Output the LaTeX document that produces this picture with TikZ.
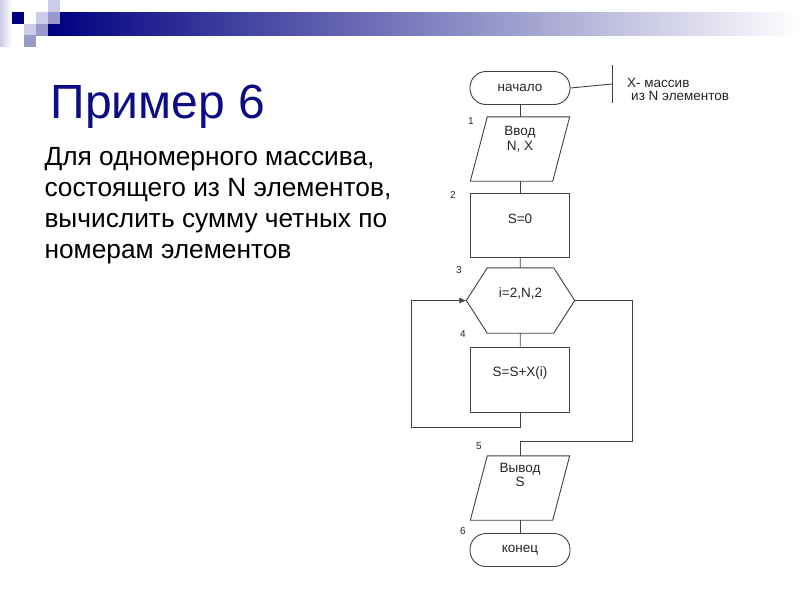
\documentclass[tikz,border=0pt]{standalone}
\usepackage{fontspec}
\setmainfont{Liberation Sans}
\usetikzlibrary{arrows.meta}

\definecolor{deckblue}{HTML}{000080}
\definecolor{deckmid}{HTML}{9999CC}
\definecolor{decklight}{HTML}{CCCCE8}
\definecolor{titleblue}{HTML}{0C0C84}

\begin{document}
\begin{tikzpicture}[x=1pt, y=-1pt,
    flow/.style={draw=black!75, line width=0.9pt},
    block/.style={flow, minimum width=99pt, minimum height=64pt, inner sep=0pt},
    ghost/.style={minimum width=99pt, minimum height=64pt, inner sep=0pt},
    term/.style={flow, rounded corners=16pt, minimum width=100pt, minimum height=33pt, inner sep=0pt},
    txt/.style={font=\fontsize{13.5}{14.5}\selectfont, text=black!85, align=center, inner sep=0pt},
    num/.style={font=\fontsize{10}{12}\selectfont, text=black!85, inner sep=0pt}]
    \useasboundingbox (0,0) rectangle (800,600);
    \fill[white] (0,0) rectangle (800,600);

    % Polosa i kvadratiki v levom uglu
    \shade[left color=decklight, right color=white] (0,0) rectangle (12,46);
    \shade[left color=deckblue, middle color=deckblue!40, right color=white] (48,12) rectangle (800,35);
    \foreach \x/\y/\c in {48/0/decklight, 12/12/deckblue, 36/12/decklight, 48/12/deckmid,
                          24/24/decklight, 36/24/deckmid, 24/35/deckmid}
        \fill[\c] (\x,\y) rectangle ++(12,12);

    % Zagolovok i uslovie
    \node (title) [anchor=base west, text=titleblue, font=\fontsize{48}{52}\selectfont] at (47,118) {Пример 6};
    \node (task) [anchor=base west, align=left, font=\fontsize{26.3}{31}\selectfont] at (41,258)
        {Для одномерного массива,\\состоящего из N элементов,\\вычислить сумму четных по\\номерам элементов};

    % Blok-skhema
    \node (start) [term, txt] at (520,88) {начало};

    \node (inp) [ghost] at (520,149) {};
    \draw[flow] ([xshift=17pt]inp.north west) -- (inp.north east) -- ([xshift=-17pt]inp.south east) -- (inp.south west) -- cycle;
    \node (inptext) [txt] at ([yshift=10pt]inp.center) {Ввод\\N, X};

    \node (init) [block] at (520,225) {};
    \node (inittext) [txt] at ([yshift=6pt]init.center) {S=0};

    \node (cyc) [ghost, minimum width=108pt, minimum height=65pt] at (520.5,300.5) {};
    \draw[flow] (cyc.west) -- ([xshift=21pt]cyc.north west) -- ([xshift=-21pt]cyc.north east) -- (cyc.east)
        -- ([xshift=-21pt]cyc.south east) -- ([xshift=21pt]cyc.south west) -- cycle;
    \node (cyctext) [txt] at ([yshift=7.5pt]cyc.center) {i=2,N,2};

    \node (sum) [block, minimum height=65pt] at (520,379.5) {};
    \node (sumtext) [txt] at ([yshift=6.5pt]sum.center) {S=S+X(i)};

    \node (outp) [ghost] at (520,488) {};
    \draw[flow] ([xshift=17pt]outp.north west) -- (outp.north east) -- ([xshift=-17pt]outp.south east) -- (outp.south west) -- cycle;
    \node (outptext) [txt] at ([yshift=13pt]outp.center) {Вывод\\S};

    \node (stop) [term, txt] at (520,550) {конец};

    % Soedineniya
    \draw[flow] (start) -- (inp);
    \draw[flow] (inp) -- (init);
    \draw[flow] (init) -- (cyc);
    \draw[flow] (cyc) -- (sum);
    \coordinate (loopleft) at (411,427);
    \draw[flow, -{Latex[length=7pt, width=6pt]}] (sum.south) |- (loopleft) |- (cyc.west);
    \coordinate (exitright) at (632,441);
    \draw[flow] (cyc.east) -| (exitright) -| (outp.north);
    \draw[flow] (outp) -- (stop);

    % Kommentarij
    \coordinate (brk) at (612,84);
    \draw[flow] (start.east) -- (brk);
    \draw[flow] ([yshift=19pt]brk) -- ([yshift=-19pt]brk);
    \node (note) [txt, align=left, anchor=west, font=\fontsize{13.5}{13.5}\selectfont] at (627,89.5)
        {X- массив\\\hspace{4pt}из N элементов};

    % Nomera blokov
    \foreach \n/\x/\y in {1/471/121, 2/453/195, 3/459/270, 4/463/334, 5/479/446, 6/463/531}
        \node (n\n) [num] at (\x,\y) {\n};
\end{tikzpicture}
\end{document}
